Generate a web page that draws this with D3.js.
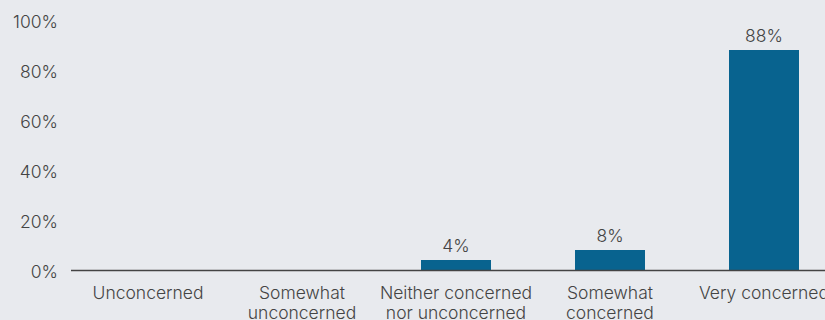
<!DOCTYPE html>
<html>
<head>
<meta charset="utf-8">
<script src="https://cdn.jsdelivr.net/npm/d3@7"></script>
<style>
  html, body { margin: 0; padding: 0; background: #e8eaee; }
  svg { display: block; }
  text { font-family: "Inter", "Lato", sans-serif; fill: #444; }
</style>
</head>
<body>
<svg id="chart" width="825" height="320"></svg>
<script>
// Share of respondents by level of concern
const categories = [
  ["Unconcerned"],
  ["Somewhat", "unconcerned"],
  ["Neither concerned", "nor unconcerned"],
  ["Somewhat", "concerned"],
  ["Very concerned"]
];
const values = [0, 0, 4, 8, 88];
const yTicks = [0, 20, 40, 60, 80, 100];

(function draw() {
  const svg = d3.select("#chart");
  const W = 825;
  const plotLeft = 71, plotRight = 841, plotTop = 20, baseline = 270;
  const fontSize = 17.5;

  const keys = categories.map(c => c.join(" "));
  const x = d3.scaleBand()
    .domain(keys)
    .range([plotLeft, plotRight])
    .paddingInner(84 / 154)
    .paddingOuter(42 / 154);

  const y = d3.scaleLinear().domain([0, 100]).range([baseline, plotTop]);

  // y tick labels
  svg.append("g").selectAll("text")
    .data(yTicks)
    .join("text")
    .attr("x", 58)
    .attr("y", d => y(d) + 2)
    .attr("dy", "0.35em")
    .attr("text-anchor", "end")
    .attr("font-size", fontSize)
    .attr("font-weight", 300)
    .text(d => d + "%");

  // bars
  svg.append("g").selectAll("rect")
    .data(values)
    .join("rect")
    .attr("x", (d, i) => x(keys[i]))
    .attr("y", d => y(d))
    .attr("width", x.bandwidth())
    .attr("height", d => baseline - y(d))
    .attr("fill", "#08638f");

  // value labels
  svg.append("g").selectAll("text")
    .data(values.map((v, i) => ({ v, i })).filter(d => d.v > 0))
    .join("text")
    .attr("x", d => x(keys[d.i]) + x.bandwidth() / 2)
    .attr("y", d => y(d.v) - 8)
    .attr("text-anchor", "middle")
    .attr("font-size", fontSize)
    .attr("font-weight", 300)
    .text(d => d.v + "%");

  // baseline
  svg.append("line")
    .attr("x1", plotLeft).attr("x2", W)
    .attr("y1", baseline + 0.5).attr("y2", baseline + 0.5)
    .attr("stroke", "#444").attr("stroke-width", 1.5);

  // category labels
  const cat = svg.append("g").selectAll("text")
    .data(categories)
    .join("text")
    .attr("x", (d, i) => x(keys[i]) + x.bandwidth() / 2)
    .attr("y", 299)
    .attr("text-anchor", "middle")
    .attr("font-size", fontSize)
    .attr("font-weight", 300);
  cat.selectAll("tspan")
    .data(d => d)
    .join("tspan")
    .attr("x", function () { return d3.select(this.parentNode).attr("x"); })
    .attr("dy", (d, i) => i === 0 ? 0 : 20)
    .text(d => d);
})();
</script>
</body>
</html>
